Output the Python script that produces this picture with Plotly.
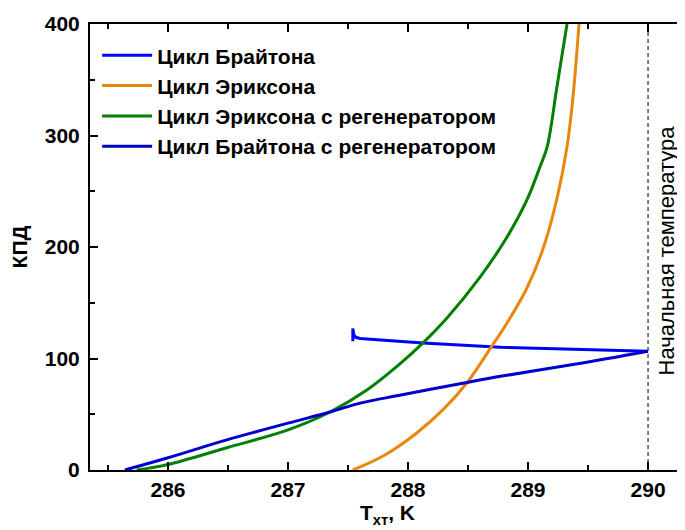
import plotly.graph_objects as go

# Цикл Брайтона
brayton_t = [290.0, 288.77, 288.125, 287.66, 287.6, 287.565, 287.548, 287.54, 287.54]
brayton_v = [106.5, 110.0, 114.0, 117.5, 118.0, 119.0, 121.5, 127.0, 115.5]

# Цикл Эриксона
ericsson_t = [287.54, 287.8, 288.07, 288.3, 288.49, 288.71, 288.82, 288.99, 289.13, 289.24,
              289.325, 289.375, 289.425]
ericsson_v = [0, 13, 33, 55, 78, 113, 131, 163, 200, 243, 290, 335, 400]

# Цикл Эриксона с регенератором
ericsson_reg_t = [285.74, 286.0, 286.49, 287.0, 287.35, 287.66, 287.93, 288.125, 288.33, 288.6,
                  288.82, 288.99, 289.1, 289.16, 289.24, 289.325]
ericsson_reg_v = [0, 5, 20, 36, 52, 72, 95, 114, 137, 173, 208, 242, 272, 290, 343, 400]

# Цикл Брайтона с регенератором
brayton_reg_t = [285.64, 286.0, 286.49, 287.0, 287.35, 287.6, 287.93, 288.49, 288.77, 289.4, 290.0]
brayton_reg_v = [0, 11, 27, 42, 52, 60, 67, 78.5, 84, 95, 106.5]

x_ticks = [286, 287, 288, 289, 290]
y_ticks = [0, 100, 200, 300, 400]
start_temp = 290.0

FONT = "Liberation Sans, Arial, sans-serif"

fig = go.Figure()
fig.add_trace(go.Scatter(x=brayton_t, y=brayton_v, mode="lines", name="Цикл Брайтона",
                         line=dict(color="#0000FF", width=3)))
fig.add_trace(go.Scatter(x=ericsson_t, y=ericsson_v, mode="lines", name="Цикл Эриксона",
                         line=dict(color="#E8870E", width=3, shape="spline", smoothing=1.0)))
fig.add_trace(go.Scatter(x=ericsson_reg_t, y=ericsson_reg_v, mode="lines",
                         name="Цикл Эриксона с регенератором",
                         line=dict(color="#008000", width=3, shape="spline", smoothing=1.0)))
fig.add_trace(go.Scatter(x=brayton_reg_t, y=brayton_reg_v, mode="lines",
                         name="Цикл Брайтона с регенератором",
                         line=dict(color="#0000CC", width=3, shape="spline", smoothing=1.0)))

fig.add_shape(type="line", xref="x", yref="y", x0=start_temp, x1=start_temp, y0=0, y1=400,
              line=dict(color="black", width=1, dash="4px,3px"), layer="below")

fig.add_annotation(x=290.15, y=197, xref="x", yref="y", text="Начальная температура",
                   textangle=-90, showarrow=False,
                   font=dict(family=FONT, size=22, color="black"))

axis_common = dict(showline=True, linecolor="black", linewidth=2, mirror="ticks",
                   ticks="inside", ticklen=8, tickwidth=2, tickcolor="black",
                   showgrid=False, zeroline=False,
                   tickfont=dict(family=FONT, size=21, color="black", weight="bold"))

fig.update_xaxes(range=[285.35, 290.308], tickvals=x_ticks, ticktext=[str(t) for t in x_ticks],
                 minor=dict(ticks="inside", ticklen=5, tickwidth=2, tickcolor="black", dtick=0.5,
                            tick0=285.5, showgrid=False),
                 title=dict(text="T<sub>хт</sub>, K", standoff=4,
                            font=dict(family=FONT, size=21, color="black", weight="bold")),
                 **axis_common)
fig.update_yaxes(range=[0, 400], tickvals=y_ticks, ticktext=[str(t) for t in y_ticks],
                 minor=dict(ticks="inside", ticklen=5, tickwidth=2, tickcolor="black", dtick=50,
                            showgrid=False),
                 ticklabelstandoff=4,
                 title=dict(text="КПД", standoff=12,
                            font=dict(family=FONT, size=21, color="black", weight="bold")),
                 **axis_common)

# page has an 8px body margin, so the figure is shifted by 8px right and down
fig.update_layout(width=677, height=522, margin=dict(l=82, r=0, t=16, b=60, autoexpand=False),
                  plot_bgcolor="white", paper_bgcolor="white",
                  legend=dict(x=0.012, y=0.975, xanchor="left", yanchor="top",
                              bgcolor="rgba(0,0,0,0)", borderwidth=0, itemwidth=50,
                              font=dict(family=FONT, size=21, color="black", weight="bold"),
                              tracegroupgap=0))

fig.write_html("out.html")
